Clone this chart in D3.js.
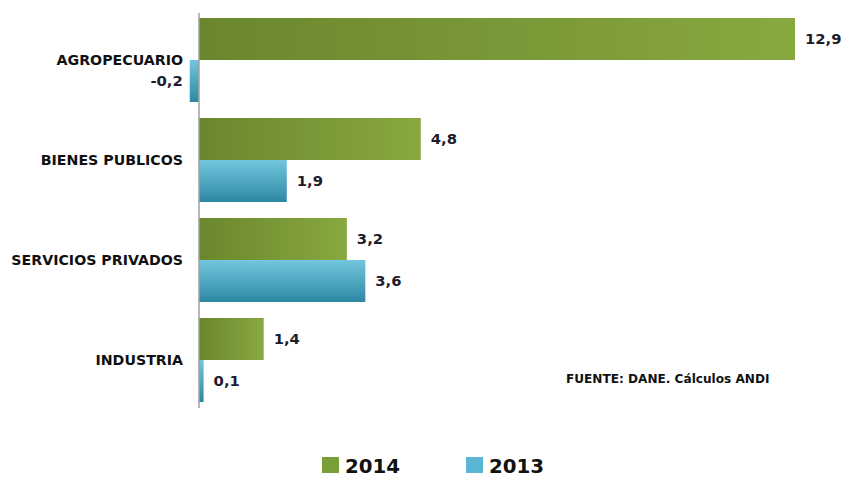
<!DOCTYPE html>
<html><head><meta charset="utf-8">
<script src="https://cdn.jsdelivr.net/npm/d3@7/dist/d3.min.js"></script>
<style>body{margin:0;background:#fff;} text{font-family:"DejaVu Sans",sans-serif;font-weight:bold;}</style>
</head><body>
<svg id="c" width="845" height="479"></svg>
<script>
const categories = ["AGROPECUARIO","BIENES PUBLICOS","SERVICIOS PRIVADOS","INDUSTRIA"];
const series = ["2014","2013"];
const values2014 = [12.9, 4.8, 3.2, 1.4];
const values2013 = [-0.2, 1.9, 3.6, 0.1];
const source = "FUENTE: DANE. Cálculos ANDI";

const svg = d3.select("#c");
const defs = svg.append("defs");
const gG = defs.append("linearGradient").attr("id","gGreen").attr("x1","0").attr("x2","1").attr("y1","0").attr("y2","0");
gG.append("stop").attr("offset","0%").attr("stop-color","#6a872d");
gG.append("stop").attr("offset","100%").attr("stop-color","#88a840");
const gB = defs.append("linearGradient").attr("id","gBlue").attr("x1","0").attr("x2","0").attr("y1","0").attr("y2","1");
gB.append("stop").attr("offset","0%").attr("stop-color","#72c6de");
gB.append("stop").attr("offset","100%").attr("stop-color","#2e87a2");

const x = d3.scaleLinear().domain([0, 12.9]).range([199, 795]);
const y = d3.scaleBand().domain(categories).range([10, 410]).paddingInner(0.16).paddingOuter(0.08);
const sub = d3.scaleBand().domain(series).range([0, y.bandwidth()]);

const data = categories.map((c,i)=>({c, v:[{s:"2014",v:values2014[i]},{s:"2013",v:values2013[i]}]}));
const fills = {"2014":"url(#gGreen)","2013":"url(#gBlue)"};
const fmt = v => d3.format(".1f")(v).replace(".",",").replace("−","-");

const g = svg.append("g");
data.forEach(d=>{
  d.v.forEach(b=>{
    const y0 = y(d.c)+sub(b.s);
    g.append("rect").attr("x", Math.min(x(0),x(b.v))).attr("y", y0)
      .attr("width", Math.abs(x(b.v)-x(0))).attr("height", sub.bandwidth())
      .attr("fill", fills[b.s]);
    const neg = b.v<0;
    g.append("text").attr("x", neg ? x(b.v)-7 : x(b.v)+10).attr("y", y0+sub.bandwidth()/2)
      .attr("dy","0.35em").attr("text-anchor", neg?"end":"start")
      .attr("font-size",14.8).attr("fill","#1c1c2e").text(fmt(b.v));
  });
});

// axis line
const yAxis = d3.axisLeft(y).tickSize(0).tickPadding(16);
const ax = svg.append("g").attr("transform",`translate(${x(0)},0)`).call(yAxis);
ax.select(".domain").attr("stroke","#a0a0a0").attr("stroke-width",1.5).attr("d","M0,13V408");
ax.selectAll("text").attr("font-size",14.2).attr("fill","#111").attr("font-family","'DejaVu Sans',sans-serif").attr("font-weight","bold");

svg.append("text").attr("x",566).attr("y",383).attr("font-size",12.1).attr("fill","#111").text(source);

// legend
const legX = {"2014":322,"2013":466};
const legC = {"2014":"#7a9e38","2013":"#5ab6d4"};
series.forEach(s=>{
  svg.append("rect").attr("x",legX[s]).attr("y",457).attr("width",17).attr("height",16).attr("fill",legC[s]);
  svg.append("text").attr("x",legX[s]+23).attr("y",473).attr("font-size",19.8).attr("fill","#111").text(s);
});
</script>
</body></html>
